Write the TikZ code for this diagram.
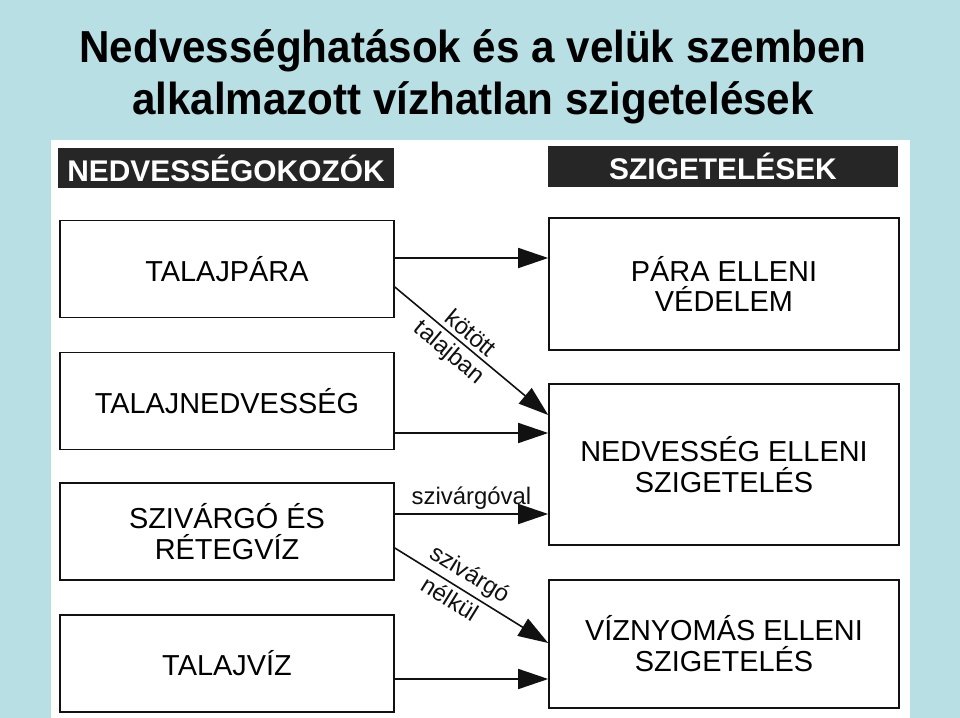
\documentclass[tikz,border=0pt]{standalone}
\usepackage{fontspec}
\setmainfont{Liberation Sans}
\usetikzlibrary{arrows.meta}
\definecolor{slideBlue}{HTML}{B8DFE3}
\definecolor{hdrDark}{HTML}{262626}
\definecolor{lineDark}{HTML}{111111}
\tikzset{
  arrowK/.style={-{Triangle[length=30bp, width=20bp]}, lineDark, line width=1.6bp},
  hdrBox/.style={rectangle, fill=hdrDark, text=white, inner sep=0pt,
                 font=\fontsize{30}{32}\selectfont\bfseries, minimum height=40bp},
  srcBox/.style={rectangle, draw=lineDark, line width=1.6bp, fill=white, align=center,
                 font=\fontsize{29}{31}\selectfont, inner sep=2pt,
                 minimum width=334bp, minimum height=97bp},
  insBox/.style={rectangle, draw=lineDark, line width=1.6bp, fill=white, align=center,
                 font=\fontsize{29}{31}\selectfont, inner sep=2pt, minimum width=350bp},
  edgeLbl/.style={font=\fontsize{24}{26}\selectfont, sloped, inner sep=4pt},
  titleTxt/.style={align=center, font=\fontsize{45}{52}\selectfont\bfseries,
                   xscale=0.94, transform shape},
}
\begin{document}
\begin{tikzpicture}[x=1bp, y=-1bp]
    \useasboundingbox[fill=slideBlue] (0,0) rectangle (960,718);
    \fill[white] (51,140) rectangle (910,718);
    \node[titleTxt] (title) at (473,77)
      {Nedvességhatások és a velük szemben\\alkalmazott vízhatlan szigetelések};

    \node[hdrBox, minimum width=336bp] (hdrL) at (226,168) {NEDVESSÉGOKOZÓK};
    \node[hdrBox, minimum width=350bp] (hdrR) at (723,166.5) {SZIGETELÉSEK};

    \node[srcBox] (talajpara) at (227,269) {TALAJPÁRA};
    \node[srcBox] (talajnedv) at (227,401) {TALAJNEDVESSÉG};
    \node[srcBox] (szivargo)  at (227,531.5) {SZIVÁRGÓ ÉS\\RÉTEGVÍZ};
    \node[srcBox] (talajviz)  at (227,663.5) {TALAJVÍZ};

    \node[insBox, minimum height=132bp] (para) at (724,284) {PÁRA ELLENI\\VÉDELEM};
    \node[insBox, minimum height=161bp] (nedv) at (724,464.5) {NEDVESSÉG ELLENI\\SZIGETELÉS};
    \node[insBox, minimum height=128bp] (viz)  at (724,644) {VÍZNYOMÁS ELLENI\\SZIGETELÉS};

    \coordinate (a1) at ([yshift=11bp]talajpara.east);
    \coordinate (a3) at ([yshift=-32bp]talajnedv.east);
    \coordinate (a4) at ([yshift=17.5bp]szivargo.east);
    \coordinate (a6) at ([yshift=-15.5bp]talajviz.east);

    \draw[arrowK] (a1) -- (a1 -| para.west);
    \draw[arrowK] ([yshift=-18bp]talajpara.east) -- ([yshift=49.5bp]nedv.west)
      node[edgeLbl, pos=0.44, above] {kötött}
      node[edgeLbl, pos=0.42, below] {talajban};
    \draw[arrowK] (a3) -- (a3 -| nedv.west);
    \draw[arrowK] (a4) -- (a4 -| nedv.west)
      node[edgeLbl, midway, above] {szivárgóval};
    \draw[arrowK] ([yshift=-16.5bp]szivargo.east) -- ([yshift=1bp]viz.west)
      node[edgeLbl, pos=0.43, above] {szivárgó}
      node[edgeLbl, pos=0.41, below] {nélkül};
    \draw[arrowK] (a6) -- (a6 -| viz.west);
  \end{tikzpicture}
\end{document}
